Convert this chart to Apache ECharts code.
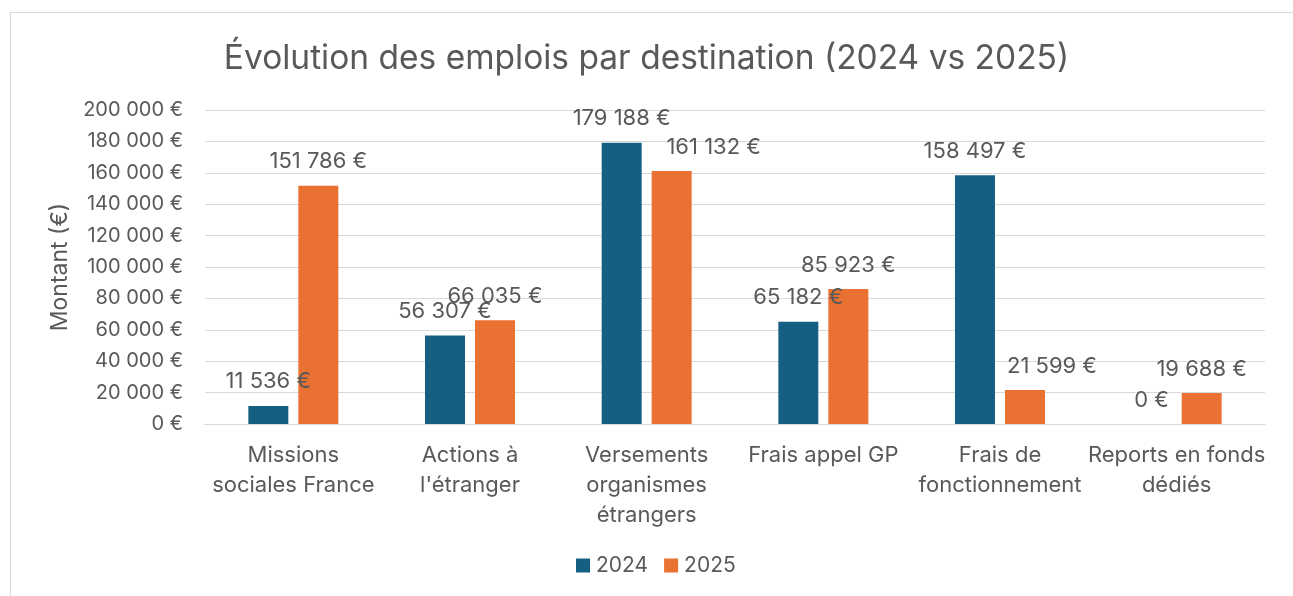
<!DOCTYPE html>
<html>
<head>
<meta charset="utf-8">
<script src="https://cdn.jsdelivr.net/npm/echarts@6/dist/echarts.min.js"></script>
<style>
  html, body { margin: 0; padding: 0; background: #fff; }
  #frame {
    position: absolute; left: 10px; top: 12px; width: 1290px; height: 600px;
    border: 1px solid #d9d9d9; box-sizing: border-box;
  }
  #chart { position: absolute; left: 0; top: 0; width: 1293px; height: 596px; }
</style>
</head>
<body>
<div id="frame"></div>
<div id="chart"></div>
<script>
var categories = ["Missions\nsociales France", "Actions à\nl'étranger", "Versements\norganismes\nétrangers",
  "Frais appel GP", "Frais de\nfonctionnement", "Reports en fonds\ndédiés"];
var values2024 = [11536, 56307, 179188, 65182, 158497, 0];
var values2025 = [151786, 66035, 161132, 85923, 21599, 19688];
var yTicks = [0, 200000, 20000]; // min, max, step

// horizontal nudges of some labels, as placed in the original
var shift2025 = [0, 0, 42, 0, 27, 0];

var textColor = "#595959";
var font = "Inter";

function euro(v) {
  return String(v).replace(/\B(?=(\d{3})+(?!\d))/g, " ") + " €";
}

var labelStyle = {
  show: true, position: "top", distance: 13, color: textColor, fontSize: 22,
  formatter: function (p) { return euro(p.value); }
};

var chart = echarts.init(document.getElementById("chart"));
chart.setOption({
  animation: false,
  textStyle: { fontFamily: font },
  color: ["#156082", "#E97132"],
  title: {
    text: "Évolution des emplois par destination (2024 vs 2025)",
    left: "center",
    top: 37,
    textStyle: { color: textColor, fontSize: 33.5, fontWeight: "normal", fontFamily: font }
  },
  legend: {
    bottom: 15,
    left: 571,
    itemWidth: 14,
    itemHeight: 14,
    itemGap: 16,
    icon: "rect",
    textStyle: { color: textColor, fontSize: 21, fontFamily: font, padding: [0, 0, 0, 1] }
  },
  grid: { left: 205, right: 28, top: 110, bottom: 172 },
  xAxis: {
    type: "category",
    data: categories,
    axisTick: { show: false },
    axisLine: { lineStyle: { color: "#d9d9d9" } },
    axisLabel: { color: textColor, fontSize: 22, lineHeight: 30, margin: 16, interval: 0, fontFamily: font }
  },
  yAxis: {
    type: "value",
    min: yTicks[0],
    max: yTicks[1],
    interval: yTicks[2],
    name: "Montant (€)",
    nameLocation: "middle",
    nameGap: 133,
    nameTextStyle: { color: textColor, fontSize: 23, fontFamily: font },
    axisLabel: { color: textColor, fontSize: 20, margin: 22, formatter: euro, fontFamily: font },
    splitLine: { lineStyle: { color: "#d9d9d9", width: 1 } }
  },
  series: [
    {
      name: "2024", type: "bar", data: values2024,
      barWidth: 40, barGap: "25%",
      label: labelStyle
    },
    {
      name: "2025", type: "bar",
      data: values2025.map(function (v, i) {
        return { value: v, label: { offset: [shift2025[i], 0] } };
      }),
      barWidth: 40,
      label: labelStyle
    }
  ]
});
window.onresize = function () { chart.resize(); };
</script>
</body>
</html>
